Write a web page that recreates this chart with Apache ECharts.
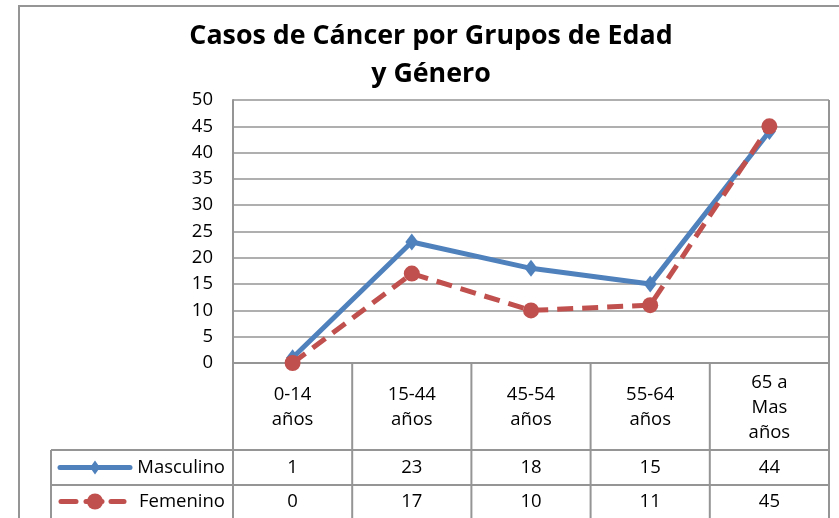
<!DOCTYPE html>
<html>
<head>
<meta charset="utf-8">
<script src="https://cdn.jsdelivr.net/npm/echarts@6/dist/echarts.min.js"></script>
<style>
  html, body { margin: 0; padding: 0; background: #fff; }
  #chart { width: 839px; height: 518px; }
</style>
</head>
<body>
<div id="chart"></div>
<script>
// data
var categories = ["0-14\naños", "15-44\naños", "45-54\naños", "55-64\naños", "65 a\nMas\naños"];
var masculino = [1, 23, 18, 15, 44];
var femenino = [0, 17, 10, 11, 45];
var seriesNames = ["Masculino", "Femenino"];
var titleText = "Casos de Cáncer por Grupos de Edad\ny Género";

var FONT = "'Open Sans', 'Liberation Sans', sans-serif";
var BLUE = "#4F81BD";
var RED = "#C0504D";
var LINE = "#959595";

var plotLeft = 233, plotTop = 100, plotW = 596, plotH = 263;
var plotBottom = plotTop + plotH;
var hdrBottom = 450, row1Bottom = 485, row2Bottom = 520;
var legendLeft = 51;

var myChart = echarts.init(document.getElementById("chart"));

myChart.setOption({
  backgroundColor: "#fff",
  animation: false,
  title: {
    text: titleText,
    left: 426,
    top: 12,
    textAlign: "center",
    textStyle: {
      fontFamily: FONT,
      fontSize: 26.8,
      fontWeight: "bold",
      color: "#000",
      lineHeight: 38
    }
  },
  grid: {
    left: plotLeft,
    top: plotTop,
    width: plotW,
    height: plotH,
    show: false
  },
  xAxis: {
    type: "category",
    data: categories,
    boundaryGap: true,
    axisLine: { show: false },
    axisTick: { show: false },
    axisLabel: { show: false },
    splitLine: { show: false }
  },
  yAxis: {
    type: "value",
    min: 0,
    max: 50,
    interval: 5,
    axisLine: { show: true, lineStyle: { color: LINE, width: 2 } },
    axisTick: { show: false },
    axisLabel: {
      margin: 20,
      fontFamily: FONT,
      fontSize: 18.5,
      color: "#000"
    },
    splitLine: { show: true, lineStyle: { color: LINE, width: 1.6 } }
  },
  series: [
    {
      name: seriesNames[0],
      type: "line",
      data: masculino,
      symbol: "diamond",
      symbolSize: [13, 17],
      lineStyle: { color: BLUE, width: 5 },
      itemStyle: { color: BLUE },
      z: 2
    },
    {
      name: seriesNames[1],
      type: "line",
      data: femenino,
      symbol: "circle",
      symbolSize: 16,
      lineStyle: { color: RED, width: 5, type: [16, 9] },
      itemStyle: { color: RED },
      z: 3
    }
  ]
});

// data table under the plot, placed with the category axis
var xs = categories.map(function (c, i) {
  return myChart.convertToPixel({ xAxisIndex: 0 }, i);
});
var step = plotW / categories.length;
var g = [];
function hline(x1, x2, y) {
  g.push({ type: "line", shape: { x1: x1, y1: y, x2: x2, y2: y }, style: { stroke: LINE, lineWidth: 2 }, silent: true });
}
function vline(x, y1, y2) {
  g.push({ type: "line", shape: { x1: x, y1: y1, x2: x, y2: y2 }, style: { stroke: LINE, lineWidth: 2 }, silent: true });
}
// outer chart border
g.push({ type: "rect", shape: { x: 19, y: 6, width: 840, height: 530 }, style: { fill: null, stroke: LINE, lineWidth: 2 }, silent: true });
// plot frame right and bottom
vline(plotLeft + plotW, plotTop, plotBottom);
hline(plotLeft, plotLeft + plotW, plotBottom);
// table grid
for (var i = 0; i <= categories.length; i++) {
  vline(plotLeft + step * i, plotBottom, row2Bottom);
}
hline(legendLeft, plotLeft + plotW, hdrBottom);
hline(legendLeft, plotLeft + plotW, row1Bottom);
vline(legendLeft, hdrBottom, row2Bottom);

var textStyle = { fontFamily: FONT, fontSize: 18.5, fill: "#000", align: "center", verticalAlign: "middle", lineHeight: 25 };
xs.forEach(function (x, i) {
  g.push({ type: "text", x: x, y: (plotBottom + hdrBottom) / 2 + 1, style: Object.assign({ text: categories[i] }, textStyle), silent: true });
  g.push({ type: "text", x: x, y: (hdrBottom + row1Bottom) / 2, style: Object.assign({ text: String(masculino[i]) }, textStyle), silent: true });
  g.push({ type: "text", x: x, y: (row1Bottom + row2Bottom) / 2 - 1, style: Object.assign({ text: String(femenino[i]) }, textStyle), silent: true });
});

// legend keys inside the table
var y1 = (hdrBottom + row1Bottom) / 2, y2 = (row1Bottom + row2Bottom) / 2 - 1;
g.push({ type: "line", shape: { x1: 60, y1: y1, x2: 130, y2: y1 }, style: { stroke: BLUE, lineWidth: 5, lineCap: "round" }, silent: true });
g.push({ type: "polygon", shape: { points: [[95, y1 - 7], [100, y1], [95, y1 + 7], [90, y1]] }, style: { fill: BLUE }, silent: true });
g.push({ type: "line", shape: { x1: 61, y1: y2, x2: 76, y2: y2 }, style: { stroke: RED, lineWidth: 5, lineCap: "round" }, silent: true });
g.push({ type: "line", shape: { x1: 86, y1: y2, x2: 102, y2: y2 }, style: { stroke: RED, lineWidth: 5, lineCap: "round" }, silent: true });
g.push({ type: "line", shape: { x1: 111, y1: y2, x2: 124, y2: y2 }, style: { stroke: RED, lineWidth: 5, lineCap: "round" }, silent: true });
g.push({ type: "circle", shape: { cx: 95, cy: y2, r: 8 }, style: { fill: RED }, silent: true });
g.push({ type: "text", x: 225, y: y1, style: { text: seriesNames[0], fontFamily: FONT, fontSize: 18.5, fill: "#000", align: "right", verticalAlign: "middle" }, silent: true });
g.push({ type: "text", x: 225, y: y2, style: { text: seriesNames[1], fontFamily: FONT, fontSize: 18.5, fill: "#000", align: "right", verticalAlign: "middle" }, silent: true });

myChart.setOption({ graphic: g });
</script>
</body>
</html>
